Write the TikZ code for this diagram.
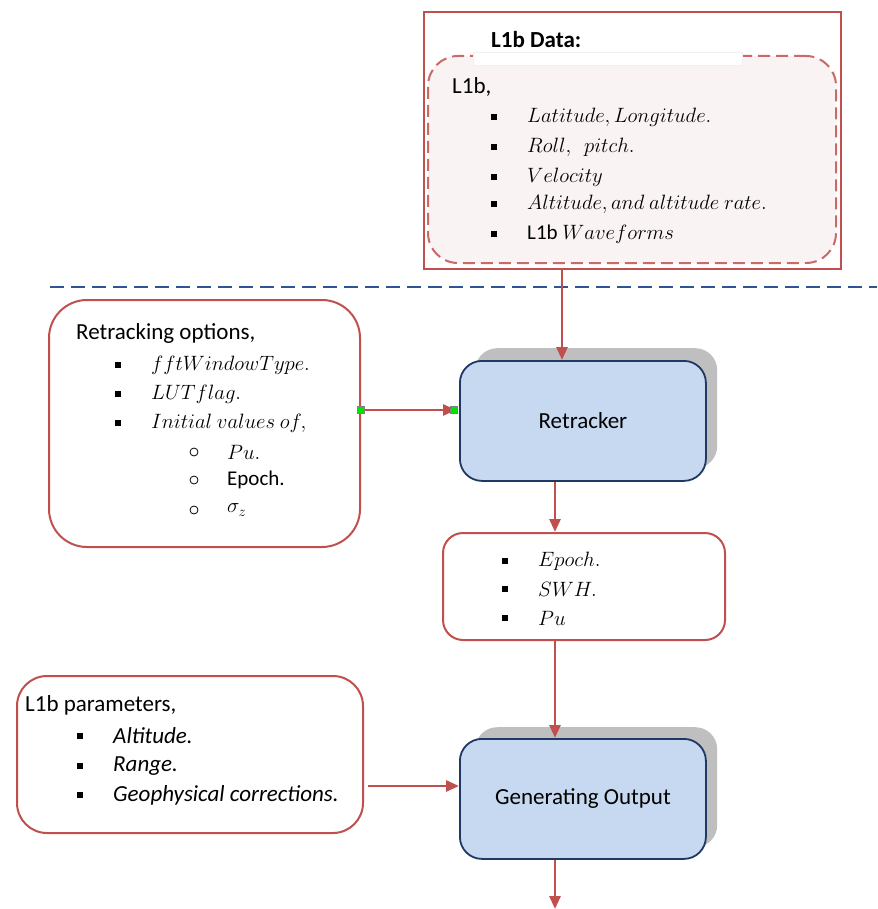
\documentclass[tikz,border=0pt]{standalone}
\usepackage{fontspec}
\setmainfont{Carlito}
\usepackage{amsmath}
\usetikzlibrary{arrows.meta,positioning}
\definecolor{boxRed}{RGB}{192,80,77}
\definecolor{dataFill}{RGB}{250,243,243}
\definecolor{stepFill}{RGB}{198,217,240}
\definecolor{stepLine}{RGB}{31,56,100}
\definecolor{shadowGray}{RGB}{191,191,191}
\definecolor{splitBlue}{RGB}{47,84,150}
\definecolor{portGreen}{RGB}{0,230,0}
\tikzstyle{diagram} = [x=1pt, y=-1pt, font=\fontsize{23}{27}\selectfont]
\tikzstyle{inputBox} = [draw=boxRed, line width=2pt, fill=white, anchor=north west, inner sep=0pt]
\tikzstyle{dataBoxStyle} = [draw=boxRed, line width=2pt, fill=white, anchor=north west, inner sep=0pt]
\tikzstyle{dataInner} = [draw=boxRed!85, line width=2pt, dash pattern=on 12pt off 6pt, fill=dataFill, rounded corners=30pt, anchor=north west, inner sep=0pt]
\tikzstyle{stepBox} = [draw=stepLine, line width=1.8pt, fill=stepFill, rounded corners=22pt, anchor=north west, inner sep=0pt, minimum width=246pt, minimum height=120pt]
\tikzstyle{stepShadow} = [fill=shadowGray, rounded corners=22pt, anchor=north west, inner sep=0pt, minimum width=242pt, minimum height=120pt]
\tikzstyle{headText} = [anchor=west, inner sep=0pt]
\tikzstyle{itemText} = [anchor=west, inner sep=0pt, font=\fontsize{21}{25}\selectfont]
\tikzstyle{squareMark} = [fill=black, inner sep=0pt, minimum size=6pt]
\tikzstyle{circleMark} = [draw=black, circle, line width=0.8pt, inner sep=0pt, minimum size=8pt]
\tikzstyle{portMark} = [fill=portGreen, draw=gray, line width=0.3pt, inner sep=0pt, minimum size=7pt]
\tikzstyle{flowArrow} = [draw=boxRed, line width=2.8pt, -{Triangle[length=13pt,width=11pt]}]
\tikzstyle{splitLine} = [draw=splitBlue, line width=1.5pt, dash pattern=on 14pt off 7pt]
% bullet with its text: name, x of mark, y, text
\newcommand{\squareItem}[4]{\node [squareMark] (#1Mark) at (#2,#3) {}; \node [itemText] (#1) at (#2 + 33,#3) {#4};}
\newcommand{\circleItem}[4]{\node [circleMark] (#1Mark) at (#2,#3) {}; \node [itemText] (#1) at (#2 + 33,#3) {#4};}
\newcommand{\paramText}[1]{{\fontsize{23}{27}\selectfont\itshape #1}}

\begin{document}
\begin{tikzpicture}[diagram]
  \useasboundingbox (0,0) rectangle (877,909);

  % input data
  \node [dataBoxStyle, minimum width=417pt, minimum height=257pt] (dataBox) at (423,11) {};
  \node [dataInner, minimum width=408pt, minimum height=207pt] (dataInnerBox) at (427,55) {};
  \node [fill=white, draw=gray!12, line width=0.6pt, anchor=north west, minimum width=269pt, minimum height=13pt, inner sep=0pt] (dataTitleBack) at (473,52) {};
  \node [headText, font=\fontsize{23}{27}\selectfont\bfseries] (dataTitle) at (491,40) {L1b Data:};
  \node [headText] (dataHead) at (452,87) {L1b,};
  \squareItem{latLon}{494}{117}{$Latitude, Longitude.$}
  \squareItem{rollPitch}{494}{147}{$Roll,\ \ pitch.$}
  \squareItem{velocity}{494}{177}{$Velocity$}
  \squareItem{altRate}{494}{204}{$Altitude, and\ altitude\ rate.$}
  \squareItem{waveforms}{494}{234}{L1b $Waveforms$}

  \draw [splitLine] (50,287) -- (877,287);

  % retracker
  \node [inputBox, rounded corners=38pt, minimum width=311pt, minimum height=247pt] (options) at (48,299) {};
  \node [headText] (optionsHead) at (76,333) {Retracking options,};
  \squareItem{fftWindow}{118}{365}{$fftWindowType.$}
  \squareItem{lutFlag}{118}{394}{$LUTflag.$}
  \squareItem{initValues}{118}{423}{$Initial\ values\ of,$}
  \circleItem{initPu}{194}{452}{$Pu.$}
  \circleItem{initEpoch}{194}{480}{Epoch.}
  \circleItem{initSigma}{194}{510}{$\sigma_z$}

  \node [stepShadow] (retrackerShadow) at (475,348) {};
  \node [stepBox] (retracker) at (459,360) {Retracker};

  \node [inputBox, rounded corners=20pt, minimum width=282pt, minimum height=107pt] (outBox) at (442,532) {};
  \squareItem{outEpoch}{505}{561}{$Epoch.$}
  \squareItem{outSwh}{505}{589}{$SWH.$}
  \squareItem{outPu}{505}{618}{$Pu$}

  % output
  \node [inputBox, rounded corners=30pt, minimum width=346pt, minimum height=157pt] (params) at (16,675) {};
  \node [headText] (paramsHead) at (25,705) {L1b parameters,};
  \squareItem{parAltitude}{80}{736}{\paramText{Altitude.}}
  \squareItem{parRange}{80}{766}{\paramText{Range.}}
  \squareItem{parGeo}{80}{795}{\paramText{Geophysical corrections.}}

  \node [stepShadow] (genShadow) at (475,727) {};
  \node [stepBox] (genOut) at (459,738) {Generating Output};

  % connectors
  \coordinate (dataOut) at (562,268);
  \coordinate (flowColumn) at (555,0);
  \coordinate (portLine) at (0,410);
  \coordinate (paramLine) at (0,786);
  \coordinate (outputEnd) at (555,909);
  \draw [flowArrow] (dataOut) -- (dataOut |- retracker.north);
  \draw [flowArrow] (options.east |- portLine) -- ([xshift=-3pt]retracker.west |- portLine);
  \node [portMark] (portStart) at (options.east |- portLine) {};
  \node [portMark] (portEnd) at ([xshift=-5pt]retracker.west |- portLine) {};
  \draw [flowArrow] (retracker.south -| flowColumn) -- (outBox.north -| flowColumn);
  \draw [flowArrow] (outBox.south -| flowColumn) -- (genOut.north -| flowColumn);
  \draw [flowArrow] ([xshift=4pt]params.east |- paramLine) -- (genOut.west |- paramLine);
  \draw [flowArrow] (genOut.south -| flowColumn) -- (outputEnd);
\end{tikzpicture}
\end{document}
